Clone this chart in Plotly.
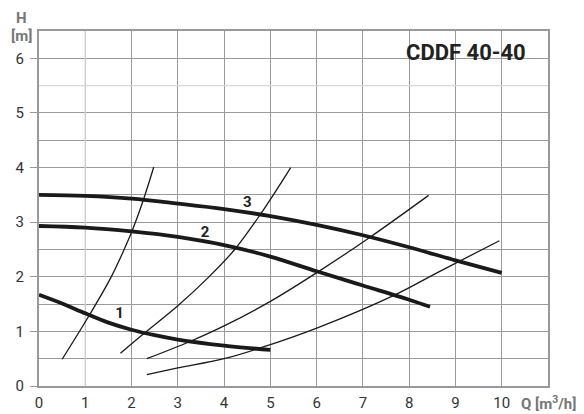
import plotly.graph_objects as go

# Pump curves (Q in m3/h, H in m)
pump1_q = [0, 0.5, 1.0, 1.5, 2.0, 2.5, 3.0, 4.0, 5.0]
pump1_h = [1.67, 1.51, 1.33, 1.16, 1.03, 0.93, 0.85, 0.74, 0.66]
pump2_q = [0, 1, 2, 3, 4, 5, 6, 7, 8, 8.45]
pump2_h = [2.93, 2.90, 2.83, 2.73, 2.58, 2.37, 2.10, 1.84, 1.58, 1.45]
pump3_q = [0, 1, 2, 3, 4, 5, 6, 7, 8, 9, 10]
pump3_h = [3.50, 3.48, 3.43, 3.34, 3.24, 3.11, 2.95, 2.76, 2.54, 2.30, 2.07]

# System curves
sys1_q = [0.50, 1.09, 1.55, 1.83, 2.03, 2.26, 2.48]
sys1_h = [0.49, 1.30, 1.98, 2.48, 2.88, 3.42, 4.01]
sys2_q = [1.76, 2.28, 3.00, 3.65, 4.22, 4.79, 5.44]
sys2_h = [0.60, 0.97, 1.47, 1.98, 2.49, 3.15, 4.00]
sys3_q = [2.33, 3.25, 4.00, 5.00, 6.03, 7.13, 8.42]
sys3_h = [0.50, 0.81, 1.10, 1.55, 2.09, 2.71, 3.49]
sys4_q = [2.33, 3.00, 4.00, 4.83, 6.03, 7.67, 8.64, 9.95]
sys4_h = [0.21, 0.33, 0.50, 0.71, 1.07, 1.66, 2.09, 2.66]

curve_labels = ["1", "2", "3"]
label_q = [1.74, 3.59, 4.5]
label_h = [1.31, 2.79, 3.34]

x_ticks = list(range(0, 11))
y_ticks = list(range(0, 7))

# The page body adds an 8px offset; the figure is sized to fill the rest.
OFF = 8
W, H = 584 - OFF, 414 - OFF
ML, MR, MT, MB = 39 - OFF, 36, 31 - OFF, 28
PW, PH = W - ML - MR, H - MT - MB


def paper(px, py):
    # px, py are positions in the 584x414 screenshot
    fx, fy = px - OFF, py - OFF
    return (fx - ML) / PW, (H - MB - fy) / PH


fig = go.Figure()

for q, h in [(sys1_q, sys1_h), (sys2_q, sys2_h), (sys3_q, sys3_h), (sys4_q, sys4_h)]:
    fig.add_trace(go.Scatter(x=q, y=h, mode="lines",
                             line=dict(color="#1a1a1a", width=1.3, shape="spline", smoothing=1.0),
                             hoverinfo="skip", showlegend=False))

for q, h in [(pump1_q, pump1_h), (pump2_q, pump2_h), (pump3_q, pump3_h)]:
    fig.add_trace(go.Scatter(x=q, y=h, mode="lines",
                             line=dict(color="#1a1a1a", width=3.8, shape="spline"),
                             hoverinfo="skip", showlegend=False))

fig.add_trace(go.Scatter(x=label_q, y=label_h, mode="text", text=curve_labels,
                         textfont=dict(family="Roboto", size=15, color="#222222", weight="bold"),
                         hoverinfo="skip", showlegend=False))

# lighter grid lines
fig.add_shape(type="line", x0=1, x1=1, y0=0, y1=6.5, xref="x", yref="y",
              line=dict(color="#d0d0d0", width=1.3), layer="between")
fig.add_shape(type="line", x0=0, x1=11, y0=5.5, y1=5.5, xref="x", yref="y",
              line=dict(color="#d6d6d6", width=1.3), layer="between")

tx, ty = paper(528, 52)
hx, hy = paper(21, 18)
mx, my = paper(21, 36)
qx, qy = paper(519, 403)

fig.update_layout(
    width=W, height=H,
    margin=dict(l=ML, r=MR, t=MT, b=MB),
    paper_bgcolor="white", plot_bgcolor="white",
    font=dict(family="Roboto", size=15, color="#333333"),
    xaxis=dict(range=[0, 11], tickvals=x_ticks, ticktext=[str(v) for v in x_ticks],
               showgrid=True, gridcolor="#9a9a9a", gridwidth=1,
               showline=True, linecolor="#999999", linewidth=2, mirror=True,
               ticks="", ticklabelstandoff=2, zeroline=False, fixedrange=True,
               automargin=False),
    yaxis=dict(range=[0, 6.5], tickvals=y_ticks, ticktext=[str(v) for v in y_ticks],
               showgrid=False,
               showline=True, linecolor="#999999", linewidth=2, mirror=True,
               ticks="outside", ticklen=7, tickcolor="#999999", tickwidth=1,
               ticklabelstandoff=3, zeroline=False, fixedrange=True, automargin=False,
               minor=dict(dtick=0.5, showgrid=True, gridcolor="#9a9a9a", gridwidth=1, ticks="")),
    annotations=[
        dict(text="CDDF 40-40", x=tx, y=ty, xref="paper", yref="paper",
             xanchor="right", yanchor="middle", showarrow=False,
             font=dict(family="Roboto", size=22, color="#222222", weight="bold")),
        dict(text="H", x=hx, y=hy, xref="paper", yref="paper", showarrow=False,
             xanchor="center", yanchor="middle",
             font=dict(family="Roboto", size=15, color="#777777", weight="bold")),
        dict(text="[m]", x=mx, y=my, xref="paper", yref="paper", showarrow=False,
             xanchor="center", yanchor="middle",
             font=dict(family="Roboto", size=15, color="#777777", weight="bold")),
        dict(text="Q [m<sup>3</sup>/h]", x=qx, y=qy, xref="paper", yref="paper",
             xanchor="left", yanchor="middle", showarrow=False,
             font=dict(family="Roboto", size=15, color="#777777", weight="bold")),
    ],
)

fig.write_html("out.html")
